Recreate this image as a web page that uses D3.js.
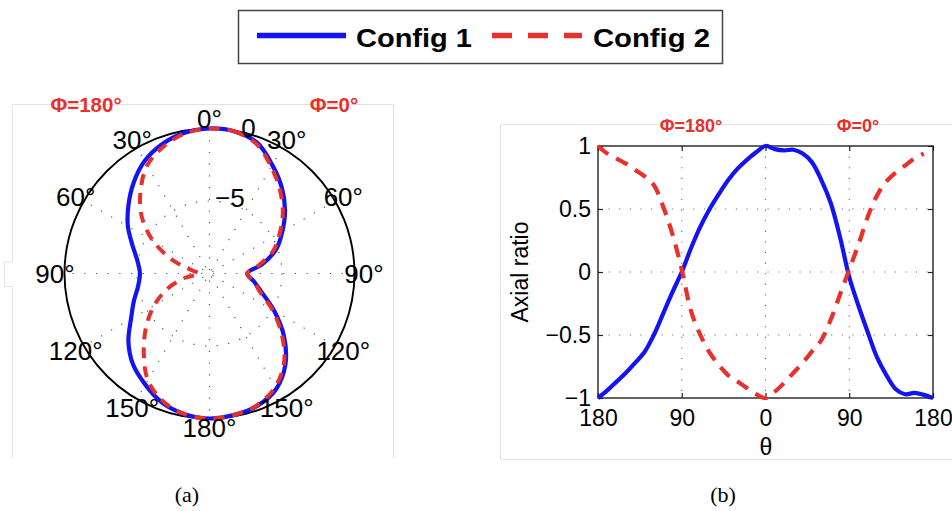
<!DOCTYPE html>
<html>
<head>
<meta charset="utf-8">
<script src="https://cdn.jsdelivr.net/npm/d3@7"></script>
<style>
  html, body { margin: 0; padding: 0; background: #fff; }
  svg { display: block; }
  text { font-family: "Liberation Sans", Arial, Helvetica, sans-serif; }
  text.cap { font-family: "Liberation Serif", "DejaVu Serif", serif; }
</style>
</head>
<body>
<script>
// ---- Radiation pattern (dB), θ sampled every 10° from 0° to 180° ----
const thetaDeg = [0, 10, 20, 30, 40, 50, 60, 70, 80, 90, 100, 110, 120, 130, 140, 150, 160, 170, 180];
const config1Phi0   = [0, -0.05, -0.4, -1.35, -2.25, -3.2, -4.2, -5.1, -6.3, -7.4, -6.9, -6.15, -4.85, -3.3, -1.85, -0.8, -0.3, -0.1, 0];
const config1Phi180 = [0, -0.15, -0.5, -1.05, -1.85, -2.7, -3.5, -4.35, -4.95, -5.2, -5.0, -4.45, -3.75, -2.7, -1.8, -1.15, -0.5, -0.15, 0];
const config2Phi0   = [0, -0.05, -0.5, -1.5, -2.45, -3.4, -4.4, -5.3, -6.5, -7.4, -6.9, -6.3, -5.0, -3.5, -2.0, -0.95, -0.35, -0.1, 0];
const config2Phi180 = [0, -0.2, -0.7, -1.4, -2.6, -3.9, -5.5, -7.3, -8.8, -9.3, -8.3, -6.9, -5.6, -4.3, -2.95, -1.5, -0.62, -0.15, 0];
const polarRange = [-10, 0];
const polarRTicks = [-5, 0];
const polarAngleTicks = [0, 30, 60, 90, 120, 150, 180];

// ---- Axial ratio versus θ (negative θ = Φ=180° half, positive θ = Φ=0° half) ----
const arTheta = [-180, -170, -160, -150, -140, -130, -120, -110, -100, -90, -80, -70, -60, -50, -40, -30, -20, -10,
                 0, 10, 20, 30, 40, 50, 60, 70, 80, 90, 100, 110, 120, 130, 140, 150, 160, 170, 180];
const arConfig1 = [-1.0, -0.94, -0.87, -0.8, -0.72, -0.635, -0.5, -0.33, -0.16, 0.0, 0.19, 0.36, 0.5, 0.62, 0.73, 0.82, 0.89, 0.95,
                   1.0, 0.975, 0.965, 0.97, 0.94, 0.87, 0.73, 0.55, 0.28, -0.04, -0.27, -0.48, -0.68, -0.82, -0.93, -0.97, -0.96, -0.975, -1.0];
const arConfig2 = [1.0, 0.94, 0.9, 0.86, 0.81, 0.76, 0.69, 0.52, 0.3, 0.02, -0.31, -0.5, -0.64, -0.74, -0.82, -0.87, -0.92, -0.97,
                   -1.0, -0.95, -0.88, -0.8, -0.72, -0.63, -0.54, -0.38, -0.18, 0.02, 0.22, 0.44, 0.61, 0.72, 0.79, 0.845, 0.9, 0.94];
const arXTicks = [-180, -90, 0, 90, 180];
const arYTicks = [-1, -0.5, 0, 0.5, 1];

const seriesNames = ["Config 1", "Config 2"];
const phiLabels = ["\u03A6=180\u00B0", "\u03A6=0\u00B0"];
const panelLabels = ["(a)", "(b)"];

const BLUE = "#1414f2";
const RED = "#e8302c";
const W = 952, H = 511;

const svg = d3.select("body").append("svg")
  .attr("width", W).attr("height", H)
  .attr("viewBox", `0 0 ${W} ${H}`);

// ---- light panel frames ----
const frame = svg.append("g").attr("fill", "none").attr("stroke", "#e2e2e2").attr("stroke-width", 1);
frame.append("path").attr("d", "M12.5,262 V104.5 H393.5 V458");
frame.append("path").attr("d", "M12.5,262 H4.5 V286.5 H12.5 V458");
frame.append("path").attr("d", "M952,124.5 H500.5 V459.5 H952");

// ---- legend ----
const legend = svg.append("g");
legend.append("rect")
  .attr("x", 238.5).attr("y", 10.5).attr("width", 484).attr("height", 53)
  .attr("fill", "#fff").attr("stroke", "#444").attr("stroke-width", 1.5);
legend.append("line")
  .attr("x1", 257).attr("x2", 346).attr("y1", 35.5).attr("y2", 35.5)
  .attr("stroke", BLUE).attr("stroke-width", 5.5);
legend.append("line")
  .attr("x1", 492).attr("x2", 582).attr("y1", 35.5).attr("y2", 35.5)
  .attr("stroke", RED).attr("stroke-width", 5.5).attr("stroke-dasharray", "20,16");
legend.selectAll("text.leg").data(seriesNames).join("text")
  .attr("class", "leg")
  .attr("x", (d, i) => i === 0 ? 356 : 593)
  .attr("y", 47)
  .attr("font-size", 25).attr("font-weight", "bold").attr("fill", "#000")
  .attr("textLength", (d, i) => i === 0 ? 116 : 117)
  .attr("lengthAdjust", "spacingAndGlyphs")
  .text(d => d);

// ---- (a) polar pattern ----
const cx = 209.5, cy = 273.5, R = 145;
const rScale = d3.scaleLinear().domain(polarRange).range([0, R]);
const polar = svg.append("g").attr("transform", `translate(${cx},${cy})`);

// dotted spokes every 30°
const spokes = d3.range(0, 180, 30);
polar.selectAll("line.spoke").data(spokes).join("line")
  .attr("class", "spoke")
  .attr("x1", d => R * Math.sin(d * Math.PI / 180))
  .attr("y1", d => -R * Math.cos(d * Math.PI / 180))
  .attr("x2", d => -R * Math.sin(d * Math.PI / 180))
  .attr("y2", d => R * Math.cos(d * Math.PI / 180))
  .attr("stroke", "#555").attr("stroke-width", 1.2)
  .attr("stroke-dasharray", "1.2,10.5");

// dotted inner rings
polar.selectAll("circle.ring").data(polarRTicks.filter(t => t < polarRange[1])).join("circle")
  .attr("class", "ring")
  .attr("r", d => rScale(d))
  .attr("fill", "none").attr("stroke", "#555").attr("stroke-width", 1.2)
  .attr("stroke-dasharray", "1.2,10.5");

// outer circle
polar.append("circle").attr("r", rScale(polarRange[1]))
  .attr("fill", "none").attr("stroke", "#000").attr("stroke-width", 1.9);

// closed pattern: Φ=0° half on the right, Φ=180° half on the left
function loop(phi0, phi180) {
  const pts = thetaDeg.map((t, i) => ({ a: t * Math.PI / 180, v: phi0[i] }));
  for (let i = thetaDeg.length - 2; i >= 1; i--) {
    pts.push({ a: -thetaDeg[i] * Math.PI / 180, v: phi180[i] });
  }
  return pts;
}
const radial = d3.lineRadial()
  .angle(d => d.a)
  .radius(d => rScale(d.v))
  .curve(d3.curveCatmullRomClosed.alpha(0.5));

polar.append("path")
  .attr("d", radial(loop(config1Phi0, config1Phi180)))
  .attr("fill", "none").attr("stroke", BLUE).attr("stroke-width", 4.2)
  .attr("stroke-linejoin", "round");
polar.append("path")
  .attr("d", radial(loop(config2Phi0, config2Phi180)))
  .attr("fill", "none").attr("stroke", RED).attr("stroke-width", 4)
  .attr("stroke-dasharray", "11,8");

// angle labels on both halves
const angleLabels = [];
polarAngleTicks.forEach(t => {
  angleLabels.push({ a: t, t });
  if (t !== 0 && t !== 180) angleLabels.push({ a: -t, t });
});
const labR = R + 9.5;
polar.selectAll("text.ang").data(angleLabels).join("text")
  .attr("class", "ang")
  .attr("x", d => labR * Math.sin(d.a * Math.PI / 180))
  .attr("y", d => -labR * Math.cos(d.a * Math.PI / 180))
  .attr("text-anchor", "middle").attr("dy", "0.36em")
  .attr("font-size", 26).attr("fill", "#000")
  .text(d => d.t + "\u00B0");

// radial tick labels
polar.selectAll("text.rt").data(polarRTicks).join("text")
  .attr("class", "rt")
  .attr("x", d => (rScale(d) + 6) * Math.sin(15 * Math.PI / 180))
  .attr("y", d => -(rScale(d) + 6) * Math.cos(15 * Math.PI / 180))
  .attr("text-anchor", "middle").attr("dy", "0.36em")
  .attr("font-size", 26).attr("fill", "#000")
  .text(d => d3.format("")(d));

// Φ half labels
svg.append("text").attr("x", 86).attr("y", 112)
  .attr("text-anchor", "middle").attr("font-size", 20.5).attr("font-weight", "bold")
  .attr("fill", RED).text(phiLabels[0]);
svg.append("text").attr("x", 334).attr("y", 112)
  .attr("text-anchor", "middle").attr("font-size", 20.5).attr("font-weight", "bold")
  .attr("fill", RED).text(phiLabels[1]);

// ---- (b) axial ratio ----
const x = d3.scaleLinear().domain([-180, 180]).range([598, 933]);
const y = d3.scaleLinear().domain([-1, 1]).range([398, 146]);
const plot = svg.append("g");

// dotted grid
plot.selectAll("line.gx").data(arXTicks.slice(1, -1)).join("line")
  .attr("class", "gx")
  .attr("x1", d => x(d)).attr("x2", d => x(d))
  .attr("y1", y(1)).attr("y2", y(-1))
  .attr("stroke", "#666").attr("stroke-width", 1.1).attr("stroke-dasharray", "1.1,9.5");
plot.selectAll("line.gy").data(arYTicks.slice(1, -1)).join("line")
  .attr("class", "gy")
  .attr("x1", x(-180)).attr("x2", x(180))
  .attr("y1", d => y(d)).attr("y2", d => y(d))
  .attr("stroke", "#666").attr("stroke-width", 1.1).attr("stroke-dasharray", "1.1,9.5");

const fmt = d3.format("");
const axB = plot.append("g").attr("transform", `translate(0,${y(-1)})`)
  .call(d3.axisBottom(x).tickValues(arXTicks).tickFormat(d => fmt(Math.abs(d)))
    .tickSizeInner(-5).tickSizeOuter(0).tickPadding(12));
const axL = plot.append("g").attr("transform", `translate(${x(-180)},0)`)
  .call(d3.axisLeft(y).tickValues(arYTicks).tickFormat(fmt)
    .tickSizeInner(-5).tickSizeOuter(0).tickPadding(7));
const axT = plot.append("g").attr("transform", `translate(0,${y(1)})`)
  .call(d3.axisTop(x).tickValues(arXTicks).tickFormat("").tickSizeInner(-5).tickSizeOuter(0));
const axR = plot.append("g").attr("transform", `translate(${x(180)},0)`)
  .call(d3.axisRight(y).tickValues(arYTicks).tickFormat("").tickSizeInner(-5).tickSizeOuter(0));
[axB, axL, axT, axR].forEach(g => {
  g.select(".domain").remove();
  g.selectAll(".tick line").attr("stroke", "#222").attr("stroke-width", 1.2);
  g.selectAll("text").attr("font-size", 23).attr("fill", "#000");
});

plot.append("rect")
  .attr("x", x(-180)).attr("y", y(1))
  .attr("width", x(180) - x(-180)).attr("height", y(-1) - y(1))
  .attr("fill", "none").attr("stroke", "#222").attr("stroke-width", 1.4);

const line = d3.line().x(d => x(d[0])).y(d => y(d[1])).curve(d3.curveCatmullRom.alpha(0.5));
plot.append("path")
  .attr("d", line(arConfig1.map((v, i) => [arTheta[i], v])))
  .attr("fill", "none").attr("stroke", BLUE).attr("stroke-width", 4.2)
  .attr("stroke-linejoin", "round");
plot.append("path")
  .attr("d", line(arConfig2.map((v, i) => [arTheta[i], v])))
  .attr("fill", "none").attr("stroke", RED).attr("stroke-width", 4.2)
  .attr("stroke-dasharray", "13,9");

// axis titles
svg.append("text").attr("x", 766).attr("y", 455)
  .attr("text-anchor", "middle").attr("font-size", 23).attr("fill", "#000").text("\u03B8");
svg.append("text").attr("transform", "translate(528,272) rotate(-90)")
  .attr("text-anchor", "middle").attr("font-size", 23).attr("fill", "#000").text("Axial ratio");

// Φ half labels
svg.append("text").attr("x", 691).attr("y", 132)
  .attr("text-anchor", "middle").attr("font-size", 18).attr("font-weight", "bold")
  .attr("fill", RED).text(phiLabels[0]);
svg.append("text").attr("x", 858).attr("y", 132)
  .attr("text-anchor", "middle").attr("font-size", 18).attr("font-weight", "bold")
  .attr("fill", RED).text(phiLabels[1]);

// ---- panel captions ----
svg.selectAll("text.cap").data(panelLabels).join("text")
  .attr("class", "cap")
  .attr("x", (d, i) => i === 0 ? 187 : 723)
  .attr("y", 502)
  .attr("text-anchor", "middle")
  .attr("font-size", 22).attr("fill", "#000")
  .text(d => d);
</script>
</body>
</html>
